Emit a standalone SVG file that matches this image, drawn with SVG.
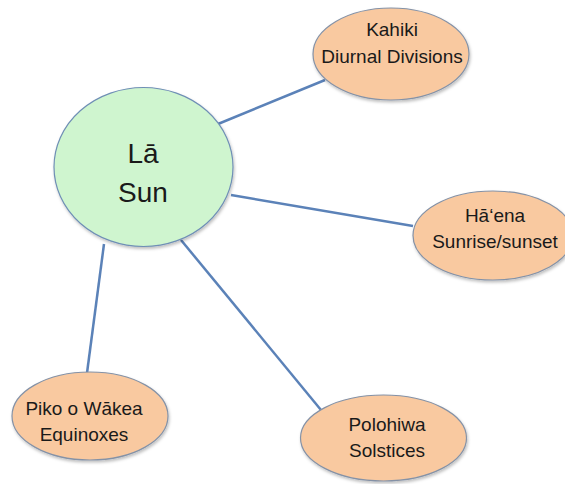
<svg xmlns="http://www.w3.org/2000/svg" width="565" height="484" viewBox="0 0 565 484">
<defs>
<filter id="sh" x="-10%" y="-10%" width="130%" height="130%">
<feDropShadow dx="1" dy="2" stdDeviation="1.5" flood-color="#000" flood-opacity="0.25"/>
</filter>
</defs>
<style>
.edge{stroke:#5b82b8;stroke-width:2.5;fill:none}
.sat{fill:#f9c9a0;stroke:#8592a6;stroke-width:1.2;filter:url(#sh)}
.hub{fill:#cff5cf;stroke:#6f8fb5;stroke-width:1.2;filter:url(#sh)}
text{font-family:"Liberation Sans",Arial,sans-serif;fill:#1a1a1a;text-anchor:middle}
.t{font-size:19px}
.big{font-size:28px}
</style>
<rect width="565" height="484" fill="#fff"/>
<g id="connectors">
<line class="edge" x1="218" y1="124" x2="325" y2="80"/>
<line class="edge" x1="231" y1="195" x2="413" y2="226"/>
<line class="edge" x1="104" y1="244" x2="87" y2="373"/>
<line class="edge" x1="181" y1="240" x2="321" y2="410"/>
</g>
<g id="sun">
<ellipse class="hub" cx="143.5" cy="167" rx="89.5" ry="79.5"/>
<text class="big" x="143" y="163">Lā</text>
<text class="big" x="143" y="202">Sun</text>
</g>
<g id="kahiki">
<ellipse class="sat" cx="391" cy="54" rx="78" ry="46"/>
<text class="t" x="392" y="36">Kahiki</text>
<text class="t" x="392" y="63">Diurnal Divisions</text>
</g>
<g id="haena">
<ellipse class="sat" cx="493" cy="235.5" rx="80" ry="44.5"/>
<text class="t" x="495" y="222">Hāʻena</text>
<text class="t" x="495" y="248">Sunrise/sunset</text>
</g>
<g id="piko">
<ellipse class="sat" cx="90" cy="416" rx="78" ry="44"/>
<text class="t" x="84" y="415">Piko o Wākea</text>
<text class="t" x="84" y="441">Equinoxes</text>
</g>
<g id="polohiwa">
<ellipse class="sat" cx="383.5" cy="438" rx="83" ry="43"/>
<text class="t" x="387" y="431">Polohiwa</text>
<text class="t" x="387" y="457">Solstices</text>
</g>
</svg>
